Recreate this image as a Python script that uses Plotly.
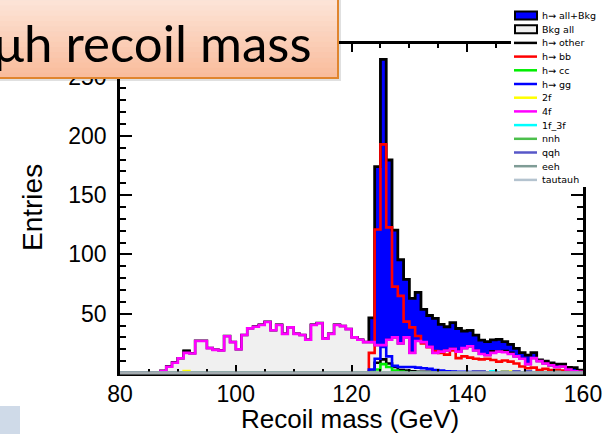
import plotly.graph_objects as go

# ---------------- data (1 GeV bins, lower edges 80..159) ----------------
bin_lo = list(range(80, 160))
edges = list(range(80, 161))

f4 = [0, 0, 0, 0, 0, 0, 0, 1.7, 5.3, 8.7,          # 80-89
      12.4, 17, 16.5, 27, 27, 21, 19.5, 19, 31, 26,  # 90-99
      20, 32, 37.6, 39, 40.5, 43, 36, 40.5, 33, 38.5,  # 100-109
      33, 32, 28, 40.5, 42, 29, 33, 40.5, 39.5, 37,  # 110-119
      30, 28, 26, 26, 23.5, 23.5, 28, 30, 25, 30,    # 120-129
      17, 27, 26, 22, 17, 18, 19, 20.5, 18, 21,      # 130-139
      22.5, 19, 16, 15, 17, 18, 17.5, 16, 14, 12,    # 140-149
      7.5, 12.5, 10, 8, 6.5, 5, 5.5, 3, 1.5, 1]      # 150-159

# sparse series: {bin lower edge: entries}
f2_pts = {91: 1.7, 146: 1.2, 147: 1.2}
f1_3f_pts = {144: 1.5}
nnh_pts = {}
qqh_pts = {141: 1.5, 142: 1.5, 148: 1.5, 150: 1.5}
eeh_pts = {146: 1.2, 155: 1.0}
tautauh_pts = {}

h_bb_pts = {123: 17, 124: 121, 125: 192.8, 126: 122.8, 127: 72.8, 128: 65,
            129: 43.3, 130: 38.5, 131: 31.2, 132: 25, 133: 21.7, 134: 18.5,
            135: 17, 136: 15.5, 137: 19, 138: 12.5, 139: 14, 140: 13,
            141: 12, 142: 11.5, 143: 12, 144: 11, 145: 9.6, 146: 10.5,
            147: 9.6, 148: 8, 149: 5.5, 150: 4, 151: 4.5, 152: 2.5,
            153: 3.5, 154: 2.5, 155: 2.5, 156: 2, 157: 1.5, 158: 1, 159: 1}
h_other_pts = {123: 1, 124: 8.7, 125: 11.5, 126: 8, 127: 5, 128: 2.5,
               129: 2, 130: 1.5, 131: 1, 132: 1, 133: 1, 134: 1, 135: 1,
               136: 0.8, 137: 0.8, 138: 0.6, 139: 0.6, 140: 0.5}
h_cc_pts = {123: 0.5, 124: 3, 125: 7.5, 126: 5, 127: 2, 128: 1.2,
            129: 0.8, 130: 0.5, 131: 0.3}
h_gg_pts = {123: 3, 124: 12, 125: 22, 126: 14, 127: 6, 128: 5, 129: 5,
            130: 5, 131: 4.5, 132: 4, 133: 3.5, 134: 2.5, 135: 2, 136: 1.5,
            137: 1.2, 138: 1, 139: 1, 140: 0.8, 141: 0.8, 142: 0.6,
            143: 0.5, 144: 0.5, 145: 0.5, 146: 0.5}
# h -> all + Bkg, bins where the Higgs signal sits on top of the background
total_peak_pts = {123: 46.5, 124: 174, 125: 264.5, 126: 179.6, 127: 120.5,
                  128: 95.5, 129: 79, 130: 63, 131: 68, 132: 53.7, 133: 48.5,
                  134: 46, 135: 41, 136: 39, 137: 42.4, 138: 37.5, 139: 35.4,
                  140: 36, 141: 32, 142: 27.8, 143: 26.4, 144: 28, 145: 28.4,
                  146: 26.4, 147: 24.2, 148: 20.8, 149: 17.1, 150: 15,
                  151: 17.1, 152: 11, 153: 10, 154: 8.5, 155: 7.5, 156: 7.5,
                  157: 4.8, 158: 4.5, 159: 2.5}

legend_names = ["h\u2192 all+Bkg", "Bkg all", "h\u2192 other", "h\u2192 bb",
                "h\u2192 cc", "h\u2192 gg", "2f", "4f", "1f_3f", "nnh", "qqh",
                "eeh", "tautauh"]
colors = ["#0000ff", "#f0f0f0", "#000000", "#ff0000", "#00ee00", "#0000ff",
          "#ffff00", "#ff00ff", "#00ffff", "#4cbf4c", "#5757c8", "#7f9c96",
          "#b4c3cf"]

x_ticks = [80, 100, 120, 140, 160]
y_ticks = [50, 100, 150, 200, 250]


def expand(pts):
    return [pts.get(b, 0) for b in bin_lo]


f2 = expand(f2_pts)
f1_3f = expand(f1_3f_pts)
nnh = expand(nnh_pts)
qqh = expand(qqh_pts)
eeh = expand(eeh_pts)
tautauh = expand(tautauh_pts)
h_bb = expand(h_bb_pts)
h_other = expand(h_other_pts)
h_cc = expand(h_cc_pts)
h_gg = expand(h_gg_pts)
bkg_all = [a + b + c for a, b, c in zip(f4, f2, f1_3f)]
total = [total_peak_pts.get(b, bk) for b, bk in zip(bin_lo, bkg_all)]


def step(vals):
    xs = [edges[0]] + edges[:-1] + [edges[-1]]
    ys = [0] + list(vals) + [0]
    return xs, ys


fig = go.Figure()


def add_hist(vals, name, color, width=2.5, fill=None):
    xs, ys = step(vals)
    kw = {}
    if fill:
        kw = dict(fill="tozeroy", fillcolor=fill)
    fig.add_trace(go.Scatter(x=xs, y=ys, mode="lines", name=name,
                             line=dict(color=color, width=width, shape="hv"),
                             showlegend=False, hoverinfo="skip", **kw))


add_hist(total, legend_names[0], "#000000", 2.8, fill=colors[0])
add_hist(bkg_all, legend_names[1], "#000000", 2.2, fill=colors[1])
series = [h_other, h_bb, h_cc, h_gg, f2, f4, f1_3f, nnh, qqh, eeh, tautauh]
for vals, name, col in zip(series, legend_names[2:], colors[2:]):
    add_hist(vals, name, col, 2.6)

# ---------------- layout ----------------
W, H = 606, 434
L, R, T, B = 120, 23, 44, 61
PW, PH = W - L - R, H - T - B


def px(x):
    return (x - L) / PW


def py(y):
    return (H - B - y) / PH


shapes = []
# bottom axis looks grey (zero-level lines of the small samples)
shapes.append(dict(type="line", xref="paper", yref="paper", x0=0, x1=1,
                   y0=0, y1=0, line=dict(color="#a3abb0", width=3),
                   layer="above"))

# title box: shadow, gradient, border
shapes.append(dict(type="rect", xref="paper", yref="paper", x0=px(-5),
                   x1=px(341), y0=py(81), y1=py(-5), fillcolor="rgba(0,0,0,0.12)",
                   line=dict(width=0), layer="above"))
top_c = (253, 230, 218)
bot_c = (249, 188, 156)
n_band = 16
y_top, y_bot = -5, 78
for i in range(n_band):
    t = i / (n_band - 1)
    c = tuple(round(top_c[k] + (bot_c[k] - top_c[k]) * t) for k in range(3))
    ya = y_top + (y_bot - y_top) * i / n_band
    yb = y_top + (y_bot - y_top) * (i + 1) / n_band
    shapes.append(dict(type="rect", xref="paper", yref="paper", x0=px(-5),
                       x1=px(338), y0=py(yb + 0.5), y1=py(ya),
                       fillcolor="rgb(%d,%d,%d)" % c, line=dict(width=0),
                       layer="above"))
shapes.append(dict(type="rect", xref="paper", yref="paper", x0=px(-5),
                   x1=px(338), y0=py(78), y1=py(-5), fillcolor="rgba(0,0,0,0)",
                   line=dict(color="#e0852e", width=2), layer="above"))

# bottom-left decoration
shapes.append(dict(type="rect", xref="paper", yref="paper", x0=px(-2),
                   x1=px(20), y0=py(436), y1=py(406), fillcolor="#cfdae8",
                   line=dict(width=0), layer="above"))

# legend (manual, compact like the ROOT legend)
shapes.append(dict(type="rect", xref="paper", yref="paper", x0=px(511),
                   x1=px(612), y0=py(187), y1=py(-3), fillcolor="white",
                   line=dict(width=0), layer="above"))
annotations = []
row0, drow = 15.5, 13.7
for i, (name, col) in enumerate(zip(legend_names, colors)):
    yc = row0 + i * drow
    if i < 2:
        shapes.append(dict(type="rect", xref="paper", yref="paper",
                           x0=px(515), x1=px(537), y0=py(yc + 4), y1=py(yc - 4),
                           fillcolor=col, line=dict(color="black", width=2),
                           layer="above"))
    else:
        shapes.append(dict(type="line", xref="paper", yref="paper",
                           x0=px(514), x1=px(537), y0=py(yc), y1=py(yc),
                           line=dict(color=col, width=2.5), layer="above"))
    annotations.append(dict(xref="paper", yref="paper", x=px(540), y=py(yc),
                            xanchor="left", yanchor="middle", text=name,
                            showarrow=False,
                            font=dict(family="DejaVu Sans, Liberation Sans",
                                      size=9.5, color="black")))

annotations.append(dict(xref="paper", yref="paper", x=px(314), y=py(43),
                        xanchor="right", yanchor="middle",
                        text="\u03bc\u03bch recoil mass", showarrow=False,
                        font=dict(family="Lato", size=51, color="black")))
annotations.append(dict(xref="paper", yref="paper", x=px(350), y=py(419),
                        xanchor="center", yanchor="middle",
                        text="Recoil mass (GeV)", showarrow=False,
                        font=dict(family="Liberation Sans", size=26,
                                  color="black")))
annotations.append(dict(xref="paper", yref="paper", x=px(32), y=py(208),
                        xanchor="center", yanchor="middle", textangle=-90,
                        text="Entries", showarrow=False,
                        font=dict(family="Liberation Sans", size=28,
                                  color="black")))

axis_font = dict(family="Liberation Sans", size=23, color="black")
fig.update_layout(
    width=W, height=H, margin=dict(l=L, r=R, t=T, b=B, autoexpand=False),
    plot_bgcolor="white", paper_bgcolor="white", showlegend=False,
    shapes=shapes, annotations=annotations,
    xaxis=dict(range=[80, 160], tickmode="array", tickvals=x_ticks,
               ticktext=[str(v) for v in x_ticks], ticks="inside", ticklen=8,
               tickwidth=2, tickcolor="black", showline=True, linewidth=2.5,
               linecolor="black", mirror="ticks", showgrid=False,
               zeroline=False, tickfont=axis_font, ticklabelstandoff=-1,
               minor=dict(dtick=5, tick0=80, ticks="inside", ticklen=4,
                          tickwidth=2, tickcolor="black", showgrid=False)),
    yaxis=dict(range=[0, 277.4], tickmode="array", tickvals=y_ticks,
               ticktext=[str(v) for v in y_ticks], ticks="inside", ticklen=12,
               tickwidth=2, tickcolor="black", showline=True, linewidth=2.5,
               linecolor="black", mirror="ticks", showgrid=False,
               zeroline=False, tickfont=axis_font, ticklabelstandoff=6,
               minor=dict(dtick=10, tick0=0, ticks="inside", ticklen=6,
                          tickwidth=2, tickcolor="black", showgrid=False)),
)

fig.write_html("out.html")
